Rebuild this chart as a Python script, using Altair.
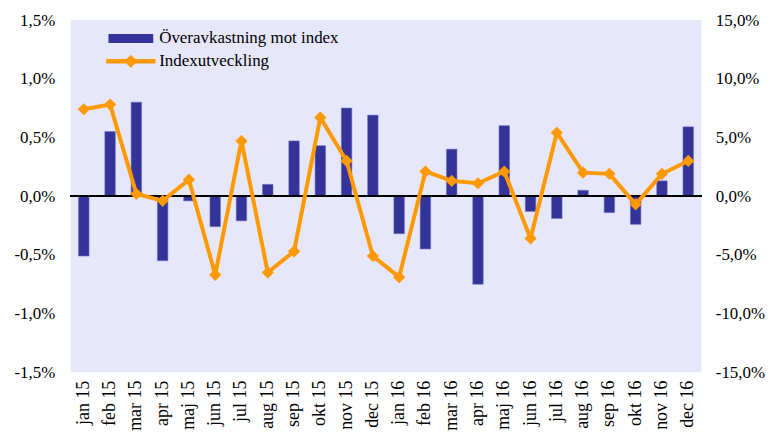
import altair as alt
import pandas as pd

months = ["jan 15", "feb 15", "mar 15", "apr 15", "maj 15", "jun 15",
          "jul 15", "aug 15", "sep 15", "okt 15", "nov 15", "dec 15",
          "jan 16", "feb 16", "mar 16", "apr 16", "maj 16", "jun 16",
          "jul 16", "aug 16", "sep 16", "okt 16", "nov 16", "dec 16"]

# Överavkastning mot index (%), left axis
excess = [-0.51, 0.55, 0.80, -0.55, -0.04, -0.26,
          -0.21, 0.10, 0.47, 0.43, 0.75, 0.69,
          -0.32, -0.45, 0.40, -0.75, 0.60, -0.13,
          -0.19, 0.05, -0.14, -0.24, 0.13, 0.59]

# Indexutveckling (%), right axis
index_dev = [7.4, 7.8, 0.2, -0.4, 1.4, -6.7,
             4.7, -6.5, -4.7, 6.7, 3.0, -5.1,
             -6.9, 2.1, 1.3, 1.1, 2.1, -3.6,
             5.4, 2.0, 1.9, -0.7, 1.9, 3.0]

bar_name = "Överavkastning mot index"
line_name = "Indexutveckling"

left_ticks = [-1.5, -1.0, -0.5, 0.0, 0.5, 1.0, 1.5]
right_ticks = [-15, -10, -5, 0, 5, 10, 15]

df = pd.DataFrame({
    "month": months,
    "excess": excess,
    "index": index_dev,
    "bname": [bar_name] * len(months),
    "lname": [line_name] * len(months),
})

FONT = "'Liberation Serif', 'DejaVu Serif', serif"
BAR = "#333399"
ORANGE = "#FF9900"
fmt = "replace(replace(format(datum.value, '.1f'), '.', ','), '\u2212', '-') + '%'"

xenc = alt.X("month:N", sort=months, title=None,
             scale=alt.Scale(paddingInner=0, paddingOuter=0),
             axis=alt.Axis(labelAngle=-90, ticks=False, domain=False,
                           labelPadding=8, labelFontSize=18, labelFont=FONT))

base = alt.Chart(df)

bars = base.mark_bar(size=10.5, stroke="#6b6bb5", strokeWidth=0.6).encode(
    x=xenc,
    y=alt.Y("excess:Q", title=None,
            scale=alt.Scale(domain=[-1.5, 1.5], nice=False, zero=False),
            axis=alt.Axis(values=left_ticks, labelExpr=fmt, grid=False,
                          ticks=False, domain=False, labelPadding=16,
                          labelFont=FONT)),
    color=alt.Color("bname:N", title=None,
                    scale=alt.Scale(range=[BAR]),
                    legend=alt.Legend(orient="none", legendX=52, legendY=10,
                                      symbolType="M-3,-0.6 L3,-0.6 L3,0.6 L-3,0.6 Z",
                                      symbolSize=225, symbolStrokeWidth=0,
                                      labelOffset=20, labelFontSize=17,
                                      labelLimit=0,
                                      labelFont=FONT, padding=0)),
)

zero = base.mark_rule(color="black", strokeWidth=1.2).encode(y=alt.datum(0))

yright = alt.Y("index:Q", title=None,
               scale=alt.Scale(domain=[-15, 15], nice=False, zero=False),
               axis=alt.Axis(orient="right", values=right_ticks, labelExpr=fmt,
                             grid=False, ticks=False, domain=False,
                             labelPadding=14, labelAlign="left",
                             labelFont=FONT))

line = base.mark_line(color=ORANGE, strokeWidth=4).encode(x=xenc, y=yright)

points = base.mark_point(filled=True, shape="diamond", size=150, opacity=1).encode(
    x=xenc, y=yright,
    fill=alt.Fill("lname:N", title=None,
                  scale=alt.Scale(range=[ORANGE]),
                  legend=alt.Legend(orient="none", legendX=52, legendY=33,
                                    symbolType="M-3.3,-0.3 L-0.6,-0.3 L0,-0.85 L0.6,-0.3 L3.3,-0.3 L3.3,0.3 L0.6,0.3 L0,0.85 L-0.6,0.3 L-3.3,0.3 Z",
                                    symbolSize=225, symbolStrokeWidth=0,
                                    labelOffset=20, labelFontSize=17,
                                    labelLimit=0,
                                    labelFont=FONT, padding=0)),
)

chart = alt.layer(
    alt.layer(bars, zero),
    alt.layer(line, points),
).resolve_scale(y="independent", color="independent", fill="independent").properties(
    width=634, height=354,
    padding={"left": 5, "top": 2, "right": 5, "bottom": 5},
).configure_view(fill="#E6E7FB", stroke=None).configure_axis(
    labelFont=FONT, labelFontSize=17, labelColor="black",
).configure_legend(labelFont=FONT, labelColor="black")

chart.save("out.html", embed_options={"renderer": "svg", "actions": False})
